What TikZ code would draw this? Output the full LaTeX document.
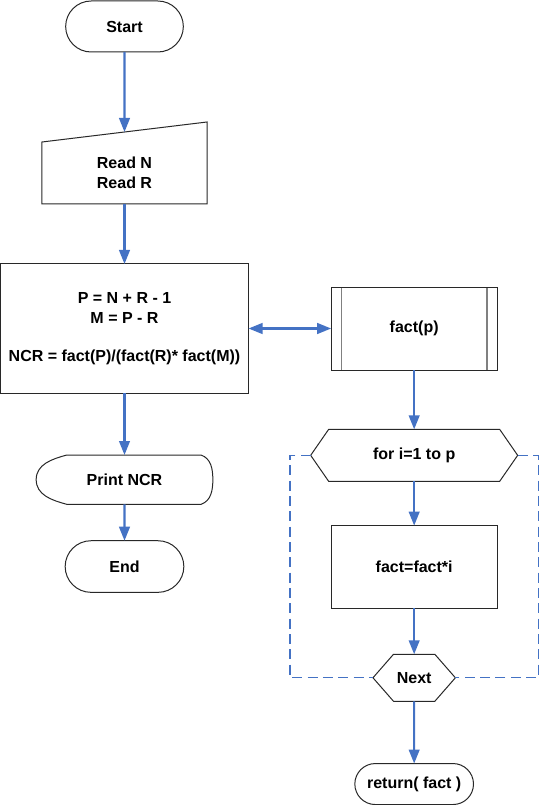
\documentclass[tikz,border=0pt]{standalone}
\usepackage{fontspec}
\setmainfont{Liberation Sans}
\usepackage{tikz}
\usetikzlibrary{shapes.misc,arrows.meta,positioning,calc}
\definecolor{flowblue}{RGB}{68,114,196}
\definecolor{edgegray}{RGB}{40,40,40}
\tikzset{
    base/.style={align=center, inner sep=2pt, outer sep=0pt, font=\bfseries\fontsize{12}{15}\selectfont},
    terminal/.style={base, rounded rectangle, draw=edgegray, line width=0.75pt},
    procbox/.style={base, rectangle, draw=edgegray, line width=0.75pt},
    shapebox/.style={base, rectangle},
    outline/.style={draw=edgegray, line width=0.75pt},
    sideline/.style={draw=gray, line width=1.3pt},
    flow/.style={->, >={Triangle[length=10.5pt, width=8pt]}, draw=flowblue, line width=1.6pt},
    loopline/.style={draw=flowblue, line width=1pt, dash pattern=on 7.5pt off 4pt},
}
\begin{document}
\begin{tikzpicture}
    \useasboundingbox (-93.375pt,19.875pt) rectangle (311.625pt,-583.875pt);

    \node[terminal, minimum width=92.25pt, minimum height=38.25pt] (start) at (0,0) {Start};
    \node[shapebox, minimum width=123.75pt, minimum height=46.5pt, below=67.5pt of start] (read) {Read N\\Read R};
    \node[procbox, minimum width=186pt, minimum height=96.75pt, below=45pt of read] (calc) {P = N + R - 1\\M = P - R\\[14pt]NCR = fact(P)/(fact(R)* fact(M))};
    \node[shapebox, minimum width=132.5pt, minimum height=37pt, below=46.5pt of calc] (print) {Print NCR};
    \node[terminal, minimum width=93pt, minimum height=38.7pt, below=27.3pt of print] (end) {End};

    \node[procbox, minimum width=124.5pt, minimum height=62.25pt, right=62pt of calc] (factp) {fact(p)};
    \node[shapebox, minimum width=155.25pt, minimum height=39pt, below=44.5pt of factp] (for) {for i=1 to p};
    \node[procbox, minimum width=124.5pt, minimum height=61.8pt, below=33.2pt of for] (body) {fact=fact*i};
    \node[shapebox, minimum width=61.8pt, minimum height=35.25pt, below=34.7pt of body] (next) {Next};
    \node[terminal, minimum width=93pt, minimum height=30.75pt, below=46.7pt of next] (ret) {return( fact )};

    \draw[outline] (read.south west) -- (read.south east) -- ([yshift=15pt]read.north east) -- (read.north west) -- cycle;
    \coordinate (readin) at ([yshift=7.5pt]read.north);
    \draw[outline] ([xshift=23pt]print.north west) -- ([xshift=-8.8pt]print.north east)
        to[out=-20, in=90] (print.east) to[out=-90, in=20] ([xshift=-8.8pt]print.south east)
        -- ([xshift=23pt]print.south west) to[out=165, in=-90] (print.west) to[out=90, in=-165] cycle;
    \draw[sideline] ([xshift=7.7pt]factp.north west) -- ([xshift=7.7pt]factp.south west);
    \draw[sideline] ([xshift=-7.7pt]factp.north east) -- ([xshift=-7.7pt]factp.south east);
    \draw[outline] (factp.north west) rectangle (factp.south east);
    \draw[outline] ([xshift=13.5pt]for.north west) -- ([xshift=-13.5pt]for.north east) -- (for.east)
        -- ([xshift=-13.5pt]for.south east) -- ([xshift=13.5pt]for.south west) -- (for.west) -- cycle;
    \draw[outline] ([xshift=15.4pt]next.north west) -- ([xshift=-15.4pt]next.north east) -- (next.east)
        -- ([xshift=-15.4pt]next.south east) -- ([xshift=15.4pt]next.south west) -- (next.west) -- cycle;

    \draw[flow] (start) -- (readin);
    \draw[flow] (read) -- (calc);
    \draw[flow] (calc) -- (print);
    \draw[flow] (print) -- (end);
    \draw[flow, <->] (calc) -- (factp);
    \draw[flow] (factp) -- (for);
    \draw[flow] (for) -- (body);
    \draw[flow] (body) -- (next);
    \draw[flow] (next) -- (ret);
    \draw[loopline] (for.west) -- ++(-15.5pt,0) |- (next.west);
    \draw[loopline] (for.east) -- ++(15.5pt,0) |- (next.east);
\end{tikzpicture}
\end{document}
